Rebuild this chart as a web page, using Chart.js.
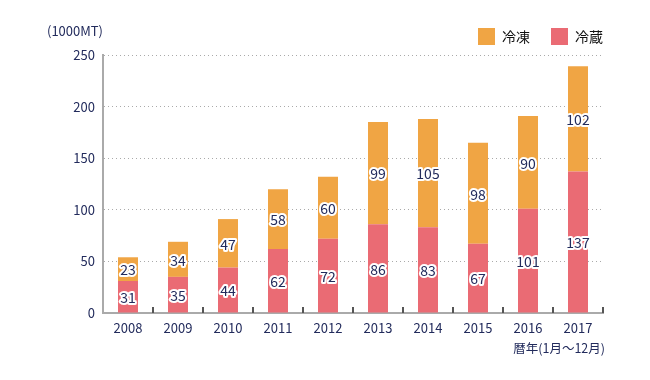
<!DOCTYPE html>
<html>
<head>
<meta charset="utf-8">
<script src="https://cdn.jsdelivr.net/npm/chart.js@4/dist/chart.umd.min.js"></script>
<style>
  html, body { margin: 0; padding: 0; background: #fff; }
  #wrap { width: 650px; height: 380px; }
</style>
</head>
<body>
<div id="wrap"><canvas id="barChart" width="650" height="380"></canvas></div>
<script>
var years = ["2008", "2009", "2010", "2011", "2012", "2013", "2014", "2015", "2016", "2017"];
var chilled = [31, 35, 44, 62, 72, 86, 83, 67, 101, 137];   // 冷蔵
var frozen = [23, 34, 47, 58, 60, 99, 105, 98, 90, 102];    // 冷凍
var yTicks = [0, 50, 100, 150, 200, 250];

var navy = '#222b5c';
var font = '"Noto Sans CJK JP", "Noto Sans", sans-serif';

// fixed legend height so the plot starts at the right place,
// and push the legend items out to the right edge of the plot
Chart.register({
    id: 'legendPlace',
    beforeInit: function (chart) {
        chart.legend.afterFit = function () {
            this.height = 55;
        };
    },
    afterLayout: function (chart) {
        chart.legend.left += 21;
        chart.legend.right += 21;
    }
});

// numbers inside each segment, titles, small ticks between years
var extras = {
    id: 'extras',
    afterDatasetsDraw: function (chart) {
        var ctx = chart.ctx;
        ctx.save();
        ctx.font = '14px ' + font;
        ctx.textAlign = 'center';
        ctx.textBaseline = 'middle';
        ctx.lineJoin = 'round';
        chart.data.datasets.forEach(function (ds, di) {
            var meta = chart.getDatasetMeta(di);
            meta.data.forEach(function (bar, i) {
                var y = (bar.y + bar.base) / 2;
                var txt = String(ds.data[i]);
                ctx.strokeStyle = '#fff';
                ctx.lineWidth = 4;
                ctx.strokeText(txt, bar.x, y + 1);
                ctx.fillStyle = navy;
                ctx.fillText(txt, bar.x, y + 1);
            });
        });
        ctx.restore();
    },
    afterDraw: function (chart) {
        var ctx = chart.ctx;
        var area = chart.chartArea;
        var xs = chart.scales.x;
        ctx.save();
        // tick marks between categories
        ctx.strokeStyle = '#555';
        ctx.lineWidth = 2;
        var half = (xs.getPixelForTick(1) - xs.getPixelForTick(0)) / 2;
        for (var i = 0; i < years.length; i++) {
            var x = Math.round(xs.getPixelForTick(i) + half);
            ctx.beginPath();
            ctx.moveTo(x, area.bottom - 6);
            ctx.lineTo(x, area.bottom);
            ctx.stroke();
        }
        ctx.fillStyle = navy;
        ctx.font = '13px ' + font;
        ctx.textAlign = 'right';
        ctx.textBaseline = 'middle';
        ctx.fillText('(1000MT)', area.left, 31);
        ctx.font = '12.5px ' + font;
        ctx.fillText('暦年(1月～12月)', area.right + 2, 348);
        ctx.restore();
    }
};

var ctx = document.getElementById('barChart').getContext('2d');
var myChart = new Chart(ctx, {
    type: 'bar',
    data: {
        labels: years,
        datasets: [{
            label: '冷蔵',
            data: chilled,
            backgroundColor: '#ea6b74'
        }, {
            label: '冷凍',
            data: frozen,
            backgroundColor: '#f0a544'
        }]
    },
    plugins: [extras],
    options: {
        responsive: false,
        animation: false,
        layout: { padding: { left: 0, right: 47, top: 7, bottom: 0 } },
        datasets: { bar: { categoryPercentage: 1, barPercentage: 0.4 } },
        plugins: {
            tooltip: { enabled: false },
            legend: {
                position: 'top',
                align: 'end',
                reverse: true,
                labels: {
                    boxWidth: 17,
                    boxHeight: 17,
                    padding: 21,
                    color: '#111',
                    font: { family: font, size: 14 }
                }
            }
        },
        scales: {
            x: {
                stacked: true,
                afterFit: function (scale) { scale.height = 67; },
                grid: { display: false, drawTicks: false },
                border: { display: true, color: '#aaa', width: 2 },
                ticks: { color: navy, padding: 7, font: { family: font, size: 13 } }
            },
            y: {
                stacked: true,
                min: yTicks[0],
                max: yTicks[yTicks.length - 1],
                afterFit: function (scale) { scale.width = 103; },
                afterBuildTicks: function (scale) {
                    scale.ticks = yTicks.map(function (v) { return { value: v }; });
                },
                grid: { color: '#aaa', lineWidth: 1, drawTicks: false },
                border: { display: true, color: '#aaa', width: 2, dash: [1, 3] },
                ticks: { color: navy, padding: 8, font: { family: font, size: 13 } }
            }
        }
    }
});
</script>
</body>
</html>
